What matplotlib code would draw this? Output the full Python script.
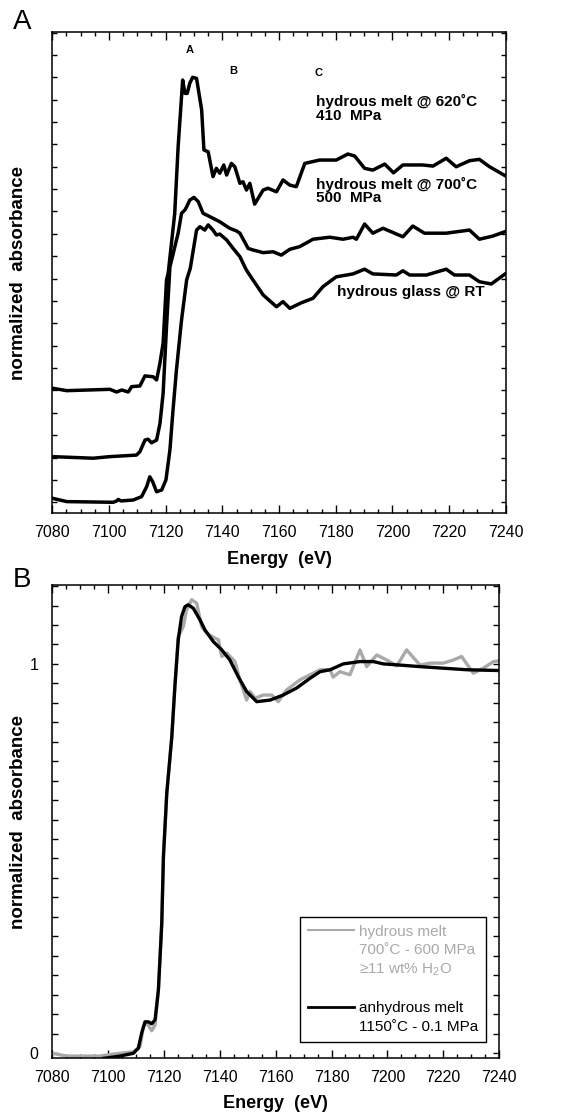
import matplotlib
matplotlib.use("Agg")
import matplotlib.pyplot as plt
from matplotlib.ticker import MultipleLocator, FixedLocator, FuncFormatter
from matplotlib.lines import Line2D

plt.rcParams['font.family'] = ['Liberation Sans', 'DejaVu Sans']
plt.rcParams['mathtext.fontset'] = 'custom'
plt.rcParams['mathtext.rm'] = 'Liberation Sans'
plt.rcParams['mathtext.it'] = 'Liberation Sans:italic'

# ---- panel A : stacked spectra (offset, arbitrary units) ----
e_620 = [7080.0, 7085.1, 7100.3, 7102.7, 7104.5, 7106.8, 7108.0, 7110.9, 7112.7, 7115.6,
         7116.8, 7118.0, 7119.1, 7120.3, 7120.9, 7123.2, 7124.4, 7126.0, 7126.8, 7127.6,
         7128.5, 7129.5, 7130.9, 7132.7, 7133.5, 7135.0, 7136.7, 7137.9, 7139.1, 7140.5,
         7141.5, 7143.2, 7144.4, 7146.2, 7147.3, 7148.5, 7149.7, 7151.4, 7154.4, 7156.1,
         7159.1, 7161.4, 7163.8, 7166.1, 7169.1, 7174.3, 7180.2, 7184.3, 7186.7, 7190.2,
         7193.1, 7197.3, 7200.4, 7203.7, 7210.7, 7214.3, 7219.0, 7222.5, 7227.2, 7230.7,
         7234.3, 7239.8]
a_620 = [0.510, 0.499, 0.505, 0.493, 0.502, 0.493, 0.517, 0.520, 0.565, 0.561,
         0.547, 0.623, 0.712, 0.994, 1.025, 1.292, 1.590, 1.888, 1.828, 1.828,
         1.873, 1.900, 1.895, 1.754, 1.575, 1.567, 1.456, 1.493, 1.471, 1.508,
         1.463, 1.515, 1.500, 1.426, 1.433, 1.396, 1.426, 1.333, 1.396, 1.404,
         1.388, 1.441, 1.418, 1.411, 1.515, 1.530, 1.530, 1.557, 1.548, 1.493,
         1.485, 1.512, 1.473, 1.508, 1.508, 1.503, 1.538, 1.500, 1.527, 1.533,
         1.500, 1.460]

e_700 = [7080.0, 7094.4, 7100.3, 7109.7, 7110.9, 7112.7, 7113.8, 7115.0, 7116.8, 7118.0,
         7119.1, 7120.3, 7121.5, 7122.1, 7124.4, 7125.6, 7126.8, 7127.4, 7128.5, 7130.0,
         7131.5, 7133.2, 7135.6, 7139.1, 7142.6, 7145.0, 7146.2, 7149.1, 7150.8, 7154.4,
         7157.9, 7160.8, 7163.8, 7167.3, 7172.0, 7177.9, 7182.6, 7186.1, 7187.3, 7190.2,
         7193.1, 7196.7, 7203.7, 7207.2, 7211.3, 7219.0, 7227.2, 7230.7, 7235.4, 7239.8]
a_700 = [0.204, 0.197, 0.204, 0.211, 0.226, 0.278, 0.282, 0.266, 0.278, 0.353,
         0.487, 0.785, 1.053, 1.083, 1.203, 1.292, 1.307, 1.321, 1.351, 1.363,
         1.344, 1.292, 1.277, 1.254, 1.225, 1.213, 1.203, 1.135, 1.128, 1.116,
         1.120, 1.105, 1.131, 1.143, 1.176, 1.185, 1.176, 1.185, 1.176, 1.244,
         1.203, 1.225, 1.187, 1.235, 1.203, 1.203, 1.217, 1.176, 1.190, 1.210]

e_glass = [7080.0, 7085.1, 7101.5, 7102.7, 7103.3, 7104.2, 7108.5, 7111.5, 7113.3, 7114.4,
           7115.4, 7116.8, 7118.6, 7120.1, 7121.5, 7122.6, 7123.8, 7125.6, 7127.4, 7128.7,
           7130.9, 7132.1, 7133.8, 7135.0, 7136.7, 7137.9, 7139.1, 7141.5, 7143.8, 7146.2,
           7147.9, 7148.5, 7150.8, 7154.4, 7159.1, 7161.4, 7163.8, 7167.9, 7172.0, 7175.5,
           7180.2, 7186.1, 7190.2, 7193.1, 7201.4, 7203.7, 7206.1, 7212.0, 7219.0, 7221.9,
           7227.2, 7230.7, 7234.9, 7239.8]
a_glass = [0.018, 0.003, 0.000, 0.006, 0.013, 0.006, 0.010, 0.025, 0.070, 0.114,
           0.092, 0.047, 0.055, 0.100, 0.234, 0.413, 0.591, 0.815, 0.994, 1.047,
           1.217, 1.232, 1.217, 1.240, 1.217, 1.195, 1.199, 1.173, 1.135, 1.098,
           1.053, 1.038, 0.994, 0.927, 0.874, 0.897, 0.867, 0.892, 0.912, 0.964,
           1.008, 1.021, 1.042, 1.021, 1.016, 1.035, 1.016, 1.016, 1.042, 1.016,
           1.016, 0.986, 0.976, 1.021]

# ---- panel B : normalized spectra ----
e_anhyd = [7098.3, 7104.2, 7109.0, 7110.8, 7112.0, 7113.2, 7114.4, 7115.6, 7116.8, 7118.0,
           7119.2, 7119.8, 7121.0, 7122.8, 7123.9, 7125.1, 7126.3, 7127.5, 7128.7, 7130.5,
           7132.9, 7134.7, 7137.7, 7140.7, 7143.6, 7146.6, 7149.6, 7153.2, 7158.0, 7162.7,
           7167.5, 7172.3, 7175.9, 7179.5, 7184.2, 7190.2, 7195.0, 7198.6, 7204.5, 7211.7,
           7220.0, 7228.4, 7240.0]
a_anhyd = [-0.014, -0.008, -0.001, 0.012, 0.051, 0.080, 0.080, 0.075, 0.085, 0.162,
           0.333, 0.505, 0.668, 0.813, 0.942, 1.062, 1.122, 1.147, 1.152, 1.143,
           1.113, 1.087, 1.057, 1.036, 1.010, 0.967, 0.929, 0.903, 0.907, 0.920,
           0.938, 0.963, 0.980, 0.985, 1.000, 1.006, 1.006, 1.000, 0.997, 0.993,
           0.989, 0.985, 0.983]

e_hyd = [7080.0, 7085.2, 7097.1, 7101.8, 7109.0, 7111.4, 7112.6, 7113.8, 7115.6, 7116.8,
         7118.0, 7119.2, 7119.8, 7121.0, 7122.8, 7123.9, 7125.1, 7126.9, 7128.1, 7129.9,
         7131.7, 7133.5, 7135.3, 7138.3, 7139.5, 7140.7, 7142.5, 7145.4, 7147.2, 7149.6,
         7150.8, 7152.6, 7155.6, 7158.6, 7160.9, 7163.9, 7168.7, 7172.3, 7175.9, 7179.5,
         7180.6, 7183.0, 7186.6, 7190.2, 7192.6, 7196.2, 7199.8, 7203.4, 7206.9, 7211.7,
         7215.3, 7220.0, 7223.6, 7226.6, 7230.8, 7234.4, 7238.0, 7240.0]
a_hyd = [-0.001, -0.008, -0.008, -0.003, 0.003, 0.016, 0.068, 0.078, 0.057, 0.072,
         0.162, 0.333, 0.505, 0.668, 0.813, 0.942, 1.070, 1.096, 1.139, 1.165,
         1.156, 1.096, 1.079, 1.066, 1.062, 1.019, 1.028, 1.006, 0.959, 0.907,
         0.929, 0.912, 0.920, 0.920, 0.903, 0.933, 0.959, 0.972, 0.985, 0.985,
         0.966, 0.980, 0.972, 1.036, 0.993, 1.023, 1.010, 0.995, 1.036, 0.997,
         1.002, 1.002, 1.010, 1.019, 0.976, 0.989, 1.006, 1.008]

gray = "#a9a9a9"

fig = plt.figure(figsize=(5.73, 11.15), dpi=100)

def style_axes(ax, ylen):
    ax.set_xlim(7080, 7240)
    ax.xaxis.set_major_locator(MultipleLocator(20))
    ax.xaxis.set_minor_locator(MultipleLocator(5))
    ax.tick_params(which='both', direction='in', top=True, right=True, width=1.0)
    ax.tick_params(axis='x', which='major', length=6, pad=8.5, labelsize=11.5)
    ax.tick_params(axis='x', which='minor', length=3)
    ax.tick_params(axis='y', which='both', length=ylen, pad=10, labelsize=11.5)
    for sp in ax.spines.values():
        sp.set_linewidth(1.1)
    ax.set_xlabel("Energy  (eV)", fontsize=13, fontweight='bold')
    ax.xaxis.set_label_coords(0.5, -0.078)
    ax.xaxis.label.set_va('top')
    ax.set_ylabel("normalized  absorbance", fontsize=13.5, fontweight='bold')

# panel A
axA = fig.add_axes([0.0913, 0.5399, 0.7913, 0.4311])
axA.plot(e_620, a_620, color='black', lw=2.5, solid_joinstyle='round')
axA.plot(e_700, a_700, color='black', lw=2.5, solid_joinstyle='round')
axA.plot(e_glass, a_glass, color='black', lw=2.5, solid_joinstyle='round')
axA.set_ylim(-0.048, 2.101)
axA.yaxis.set_major_locator(MultipleLocator(0.5))
axA.yaxis.set_minor_locator(MultipleLocator(0.1))
axA.tick_params(axis='y', labelleft=False)
style_axes(axA, 3.6)
axA.yaxis.set_label_coords(-0.0565, 0.5)

axA.text(0.304, 0.9736, "A", transform=axA.transAxes, ha='center', va='top', fontsize=8, fontweight='bold')
axA.text(0.399, 0.9299, "B", transform=axA.transAxes, ha='center', va='top', fontsize=8, fontweight='bold')
axA.text(0.5867, 0.9257, "C", transform=axA.transAxes, ha='center', va='top', fontsize=8, fontweight='bold')
axA.text(0.5816, 0.8716, "hydrous melt @ 620˚C\n410  MPa", transform=axA.transAxes,
         ha='left', va='top', fontsize=11, fontweight='bold', linespacing=0.95)
axA.text(0.5816, 0.6996, "hydrous melt @ 700˚C\n500  MPa", transform=axA.transAxes,
         ha='left', va='top', fontsize=11, fontweight='bold', linespacing=0.95)
axA.text(0.6286, 0.4743, "hydrous glass @ RT", transform=axA.transAxes,
         ha='left', va='top', fontsize=11, fontweight='bold')

# panel B
axB = fig.add_axes([0.0913, 0.0509, 0.7796, 0.4245])
axB.plot(e_hyd, a_hyd, color=gray, lw=2.4, solid_joinstyle='round')
axB.plot(e_anhyd, a_anhyd, color='black', lw=2.4, solid_joinstyle='round')
axB.set_ylim(-0.0136, 1.203)
axB.yaxis.set_major_locator(FixedLocator([0, 0.2, 0.4, 0.6, 0.8, 1.0, 1.2]))
axB.yaxis.set_minor_locator(MultipleLocator(0.05))
axB.yaxis.set_major_formatter(FuncFormatter(lambda v, p: "%d" % round(v) if abs(v - round(v)) < 1e-6 and v < 1.1 else ""))
style_axes(axB, 4.5)
axB.yaxis.set_label_coords(-0.0573, 0.5)

handles = [Line2D([], [], color=gray, lw=1.5), Line2D([], [], color='none'),
           Line2D([], [], color='none'), Line2D([], [], color='none'),
           Line2D([], [], color='black', lw=2.0), Line2D([], [], color='none')]
labels = ["hydrous melt", "700˚C - 600 MPa", "≥11 wt% H$_2$O", " ",
          "anhydrous melt", "1150˚C - 0.1 MPa"]
label_colors = [gray, gray, gray, gray, 'black', 'black']
leg = axB.legend(handles, labels, loc='lower right', bbox_to_anchor=(0.9709, 0.0351),
                 borderaxespad=0, fancybox=False, edgecolor='black', framealpha=1,
                 fontsize=11, handlelength=3, handletextpad=0.35, labelspacing=0.3,
                 borderpad=0.5)
leg.get_frame().set_linewidth(1.0)
for txt, c in zip(leg.get_texts(), label_colors):
    txt.set_color(c)

fig.text(13 / 573, 1 - 9 / 1115, "A", fontsize=20, va='top', ha='left')
fig.text(13 / 573, 1 - 567 / 1115, "B", fontsize=20, va='top', ha='left')

fig.savefig("out.png", dpi=100)
